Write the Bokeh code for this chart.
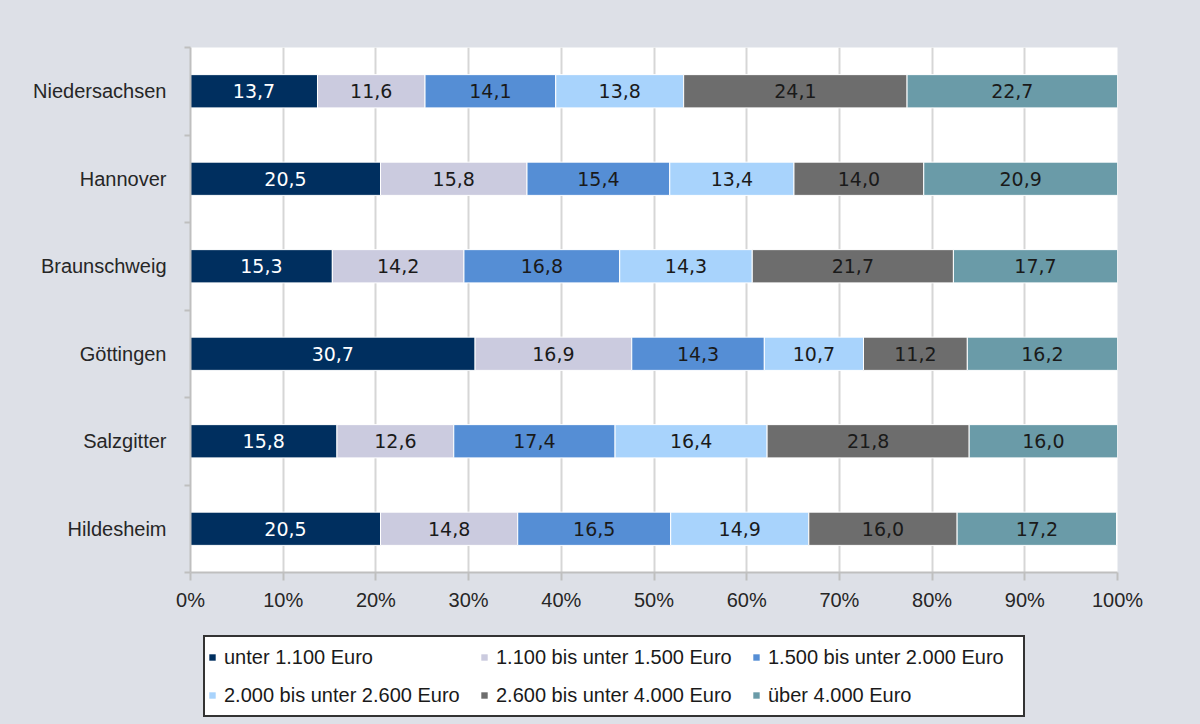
from bokeh.plotting import figure
from bokeh.layouts import column
from bokeh.models import ColumnDataSource, FixedTicker, Legend, LegendItem
from bokeh.core.properties import value
from bokeh.embed import file_html
from bokeh.resources import INLINE

# ---------------- data ----------------
categories = ["Niedersachsen", "Hannover", "Braunschweig", "Göttingen", "Salzgitter", "Hildesheim"]
series = ["unter 1.100 Euro", "1.100 bis unter 1.500 Euro", "1.500 bis unter 2.000 Euro",
          "2.000 bis unter 2.600 Euro", "2.600 bis unter 4.000 Euro", "über 4.000 Euro"]
unter_1100 = [13.7, 20.5, 15.3, 30.7, 15.8, 20.5]
von_1100_bis_1500 = [11.6, 15.8, 14.2, 16.9, 12.6, 14.8]
von_1500_bis_2000 = [14.1, 15.4, 16.8, 14.3, 17.4, 16.5]
von_2000_bis_2600 = [13.8, 13.4, 14.3, 10.7, 16.4, 14.9]
von_2600_bis_4000 = [24.1, 14.0, 21.7, 11.2, 21.8, 16.0]
ueber_4000 = [22.7, 20.9, 17.7, 16.2, 16.0, 17.2]
x_ticks = [0, 10, 20, 30, 40, 50, 60, 70, 80, 90, 100]
x_tick_labels = ["0%", "10%", "20%", "30%", "40%", "50%", "60%", "70%", "80%", "90%", "100%"]

colors = ["#002f5f", "#cbcbdf", "#558ed5", "#a8d3fc", "#6d6d6d", "#6a9ba8"]
label_colors = ["#ffffff", "#1a1a1a", "#1a1a1a", "#1a1a1a", "#1a1a1a", "#1a1a1a"]

values = [unter_1100, von_1100_bis_1500, von_1500_bis_2000,
          von_2000_bis_2600, von_2600_bis_4000, ueber_4000]

BG = "#dde0e7"
n = len(categories)
ypos = [n - 1 - i for i in range(n)]

# ---------------- main chart ----------------
p = figure(frame_width=927, frame_height=525, x_range=(0, 100), y_range=(-0.5, n - 0.5),
           output_backend="svg", toolbar_location=None,
           min_border_left=190, min_border_right=83, min_border_top=47, min_border_bottom=60,
           background_fill_color="white", border_fill_color=BG,
           outline_line_color=None)

lx, ly, lt, lc = [], [], [], []
left = [0.0] * n
for k, vals in enumerate(values):
    right = [left[i] + vals[i] for i in range(n)]
    src = ColumnDataSource(dict(y=ypos, left=list(left), right=right))
    p.hbar(y="y", left="left", right="right", height=0.38, source=src,
           fill_color=colors[k], line_color="white", line_width=1)
    for i in range(n):
        lx.append((left[i] + right[i]) / 2)
        ly.append(ypos[i])
        lt.append(f"{vals[i]:.1f}".replace(".", ","))
        lc.append(label_colors[k])
    left = right

lab_src = ColumnDataSource(dict(x=lx, y=ly, text=lt, color=lc))
p.text(x="x", y="y", text="text", text_color="color", source=lab_src,
       text_align="center", text_baseline="middle",
       text_font=value("DejaVu Sans"), text_font_size=value("19px"))

axis_col = "#bfbfbf"
p.xaxis.ticker = FixedTicker(ticks=x_ticks)
p.xaxis.major_label_overrides = {t: l for t, l in zip(x_ticks, x_tick_labels)}
p.xaxis.major_tick_out = 8
p.xaxis.major_tick_in = 0
p.xaxis.minor_tick_line_color = None
p.xaxis.major_label_standoff = 8

p.yaxis.ticker = FixedTicker(ticks=ypos, minor_ticks=[i - 0.5 for i in range(n + 1)])
p.yaxis.major_label_overrides = {ypos[i]: categories[i] for i in range(n)}
p.yaxis.major_tick_out = 0
p.yaxis.major_tick_in = 0
p.yaxis.minor_tick_out = 6
p.yaxis.minor_tick_in = 0
p.yaxis.major_label_standoff = 18

for ax in (p.xaxis, p.yaxis):
    ax.axis_line_color = axis_col
    ax.axis_line_width = 2
    ax.major_tick_line_color = axis_col
    ax.major_tick_line_width = 2
    ax.major_label_text_font = "Liberation Sans"
    ax.major_label_text_font_size = "20px"
    ax.major_label_text_color = "#262626"
p.yaxis.minor_tick_line_color = axis_col
p.yaxis.minor_tick_line_width = 2

p.xgrid.grid_line_color = "#d6d6d6"
p.xgrid.grid_line_width = 2
p.ygrid.grid_line_color = None

# ---------------- legend strip ----------------
leg_h = 724 - (47 + 525 + 60)
pl = figure(frame_width=1200, frame_height=leg_h, x_range=(0, 1), y_range=(0, 1),
            x_axis_type=None, y_axis_type=None,
            output_backend="svg", toolbar_location=None, min_border=0,
            background_fill_color=BG, border_fill_color=BG, outline_line_color=None)
pl.xgrid.grid_line_color = None
pl.ygrid.grid_line_color = None
leg_renderers = []
for k in range(len(series)):
    # legend proxy: one bar kept outside the visible range of this strip
    r = pl.hbar(y=[-5], left=[0], right=[1], height=0.38, fill_color=colors[k], line_color=None)
    leg_renderers.append(r)

legend = Legend(items=[LegendItem(label=series[k], renderers=[leg_renderers[k]]) for k in range(len(series))],
                location=(203, 7), orientation="horizontal", ncols=3,
                border_line_color="#333333", border_line_width=2, border_line_alpha=1.0,
                background_fill_color="white", background_fill_alpha=1.0,
                label_text_font="Liberation Sans", label_text_font_size="20px",
                label_text_color="#1a1a1a",
                glyph_width=8, glyph_height=8, label_standoff=8,
                label_width=252, label_height=34, spacing=4, padding=3, margin=0)
pl.add_layout(legend)

layout = column(p, pl, spacing=0, styles={"background-color": BG})
open("out.html", "w").write(file_html(layout, INLINE))
